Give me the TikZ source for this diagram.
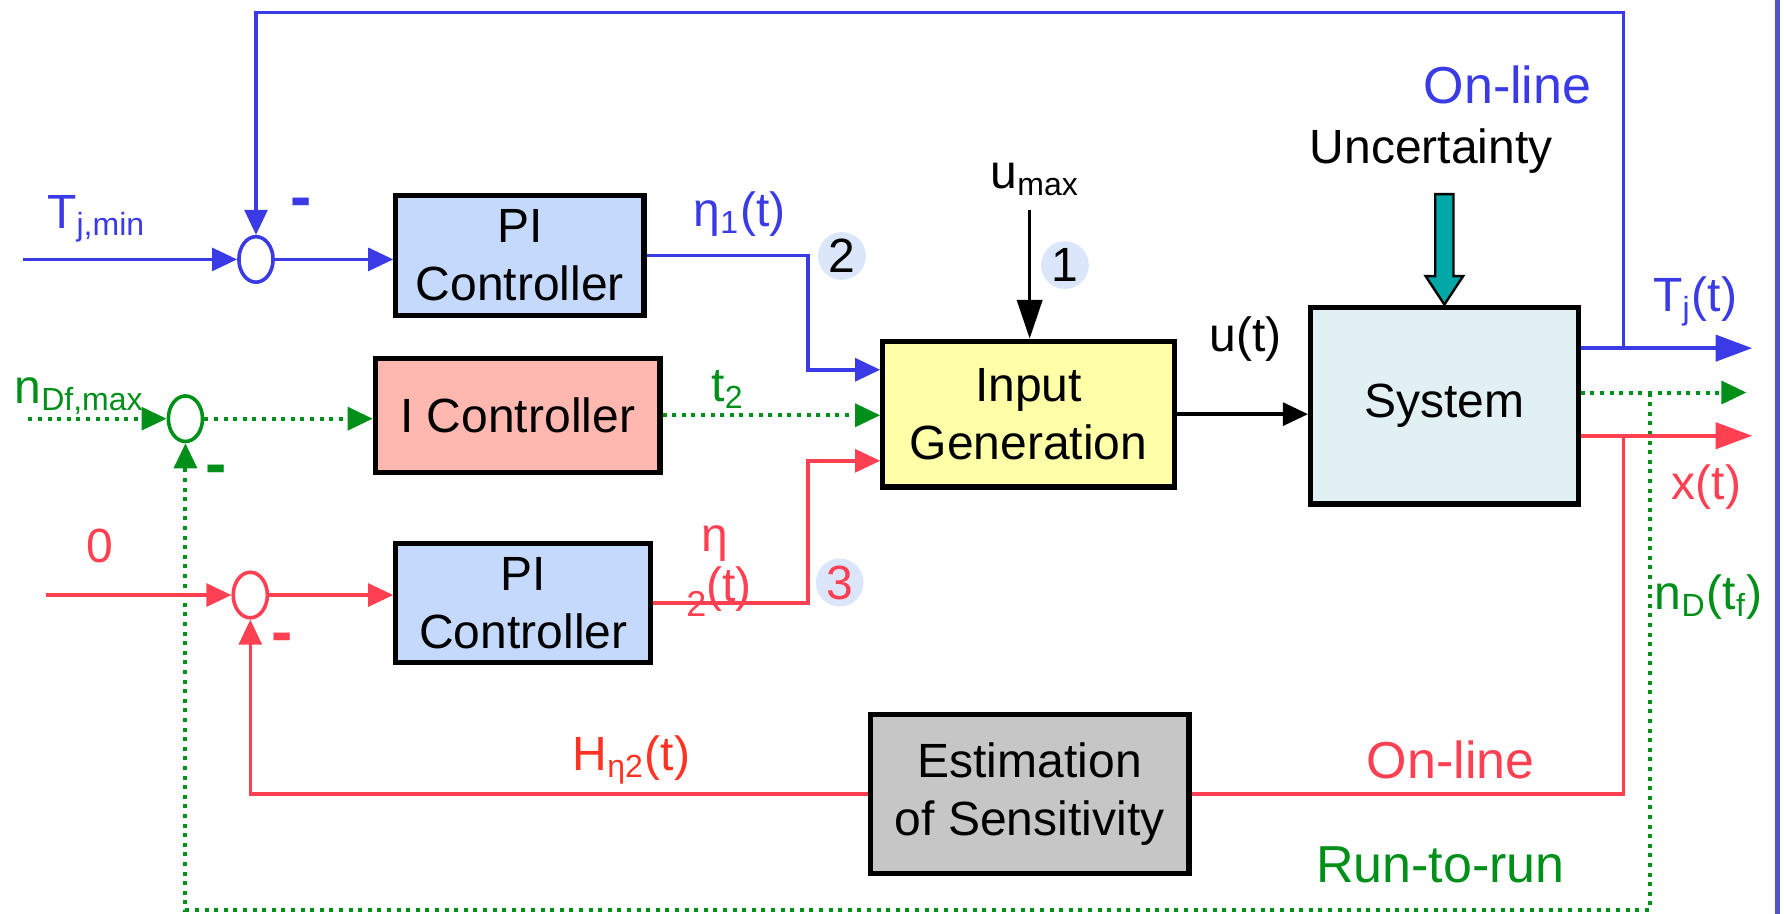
\documentclass[tikz,border=0pt]{standalone}
\usepackage{fontspec}
\setmainfont{Liberation Sans}
\usepackage{xcolor}
\usepackage{tikz}
\usetikzlibrary{arrows.meta, positioning, shapes.geometric}

\definecolor{lineblue}{HTML}{3A3AE6}
\definecolor{linered}{HTML}{FF4052}
\definecolor{hred}{HTML}{FF3322}
\definecolor{linegreen}{HTML}{00901A}
\definecolor{piblue}{HTML}{C5D9FC}
\definecolor{ipink}{HTML}{FFB8B0}
\definecolor{genyellow}{HTML}{FFFFA8}
\definecolor{syscyan}{HTML}{E0F0F3}
\definecolor{estgray}{HTML}{C6C6C6}
\definecolor{badgeblue}{HTML}{DCE6FA}
\definecolor{uncteal}{HTML}{00A8A8}
\definecolor{framebar}{HTML}{5353C9}

\begin{document}
\begin{tikzpicture}[
          x=0.01cm, y=-0.01cm,
          every node/.style={font=\fontsize{12}{14.5}\selectfont},
          block/.style={rectangle, draw, line width=1.3pt, align=center, inner sep=0pt},
          sumpt/.style={ellipse, draw, line width=0.9pt, fill=white, minimum width=0.3cm, minimum height=0.4cm, inner sep=0pt},
          badge/.style={ellipse, fill=badgeblue, minimum width=0.42cm, minimum height=0.42cm, inner sep=0pt},
          tip/.style={-{Triangle[length=0.22cm, width=0.2cm]}},
          outtip/.style={-{Triangle[length=0.32cm, width=0.23cm]}},
          bline/.style={lineblue, line width=0.9pt},
          rline/.style={linered, line width=0.9pt},
          gline/.style={linegreen, line width=1pt, dash pattern=on 1pt off 1.4pt},
          minus/.style={font=\fontsize{16}{16}\selectfont\bfseries},
          big/.style={font=\fontsize{13}{15}\selectfont}
        ]
  \useasboundingbox (0,0) rectangle (1568,803);

  \node[block, fill=piblue, minimum width=2.18cm, minimum height=1.05cm] (pi1) at (457,224.5) {PI\\Controller};
  \node[block, fill=ipink, minimum width=2.5cm, minimum height=1cm] (ictrl) at (455,365) {I Controller};
  \node[block, fill=piblue, minimum width=2.24cm, minimum height=1.04cm] (pi2) at (460,530) {PI\\Controller};
  \node[block, fill=genyellow, minimum width=2.56cm, minimum height=1.28cm] (gen) at (904,364) {Input\\Generation};
  \node[block, fill=syscyan, minimum width=2.35cm, minimum height=1.73cm] (sys) at (1269.5,356.5) {System};
  \node[block, fill=estgray, minimum width=2.8cm, minimum height=1.4cm] (est) at (905,698) {Estimation\\of Sensitivity};

  \node[sumpt, draw=lineblue] (s1) at (225,228) {};
  \node[sumpt, draw=linegreen] (s2) at (163,368) {};
  \node[sumpt, draw=linered] (s3) at (220,523) {};

  \coordinate (tjin) at (20,228);
  \coordinate (nin) at (25,368);
  \coordinate (zin) at (40,523);
  \coordinate (umax) at (905,185);
  \coordinate (toprt) at (1427,11);
  \coordinate (tjbr) at (1427,306);
  \coordinate (tjout) at (1540,306);
  \coordinate (gbr) at (1450,345);
  \coordinate (gout) at (1535,345);
  \coordinate (gbot) at (1450,800);
  \coordinate (xbr) at (1427,383);
  \coordinate (xout) at (1540,383);

  \draw[bline, tip] (tjin) -- (s1);
  \draw[bline, tip] (s1.east) -- (s1.east -| pi1.west);
  \draw[bline, tip] (pi1.east) -- ++(142,0) |- ([yshift=0.39cm]gen.west);
  \draw[bline, tip] (tjbr) -- (toprt) -| (s1.north);
  \draw[bline, outtip] (sys.east |- tjout) -- (tjout);

  \draw[gline, tip] (nin) -- (s2);
  \draw[gline, tip] (s2.east) -- (s2.east -| ictrl.west);
  \draw[gline, tip] (ictrl.east) -- (ictrl.east -| gen.west);
  \draw[gline, tip] (sys.east |- gout) -- (gout);
  \draw[gline, tip] (gbr) -- (gbot) -| (s2.south);

  \draw[rline, tip] (zin) -- (s3);
  \draw[rline, tip] (s3.east) -- (s3.east -| pi2.west);
  \draw[rline, tip] (pi2.east) -- ++(136,0) |- ([yshift=-0.41cm]gen.west);
  \draw[rline, outtip] (sys.east |- xout) -- (xout);
  \draw[rline] (xbr) |- (est.east);
  \draw[rline, tip] (est.west) -| (s3.south);

  \draw[line width=0.9pt, -{Triangle[length=0.34cm, width=0.22cm]}] (umax) -- (umax |- gen.north);
  \draw[line width=0.9pt, tip] (gen.east) -- (gen.east -| sys.west);
  \draw[fill=uncteal, line width=0.6pt] (sys.north) -- ++(-16.5,-25) -- ++(8.5,0) -- ++(0,-72) -- ++(16,0) -- ++(0,72) -- ++(8.5,0) -- cycle;

  \draw[framebar, line width=1.3pt] (1562,0) -- (1562,803);

  \node[lineblue] (tjminlbl) at (85,192) {T\textsubscript{j,min}};
  \node[lineblue, minus] (minus1) at (265,183) {-};
  \node[lineblue] (eta1lbl) at (650,188) {η\textsubscript{1}(t)};
  \node[badge] (b2) at (740,225) {2};
  \node (umaxlbl) at (910,158) {u\textsubscript{max}};
  \node[badge] (b1) at (936,233) {1};
  \node (utlbl) at (1095,298) {u(t)};
  \node (unclbl) at (1258,133) {Uncertainty};
  \node[lineblue, big] (onblue) at (1325,75) {On-line};
  \node[lineblue] (tjlbl) at (1490,265) {T\textsubscript{j}(t)};
  \node[linered] (xlbl) at (1500,428) {x(t)};
  \node[linegreen] (ndlbl) at (1502,525) {n\textsubscript{D}(t\textsubscript{f})};
  \node[linegreen] (ndflbl) at (70,348) {n\textsubscript{Df,max}};
  \node[linegreen, minus] (minus2) at (190,418) {-};
  \node[linegreen] (t2lbl) at (640,342) {t\textsubscript{2}};
  \node[linered] (zlbl) at (88,480) {0};
  \node[linered, minus] (minus3) at (248,565) {-};
  \node[linered] (eta2lbl) at (628,478) {η};
  \node[linered] (eta2sub) at (632,520) {\raisebox{-0.6ex}{\small 2}(t)};
  \node[badge, text=linered] (b3) at (738,512) {3};
  \node[hred] (hlbl) at (555,668) {H\textsubscript{η2}(t)};
  \node[linered, big] (onred) at (1275,668) {On-line};
  \node[linegreen, big] (rtrlbl) at (1266,760) {Run-to-run};
\end{tikzpicture}
\end{document}
